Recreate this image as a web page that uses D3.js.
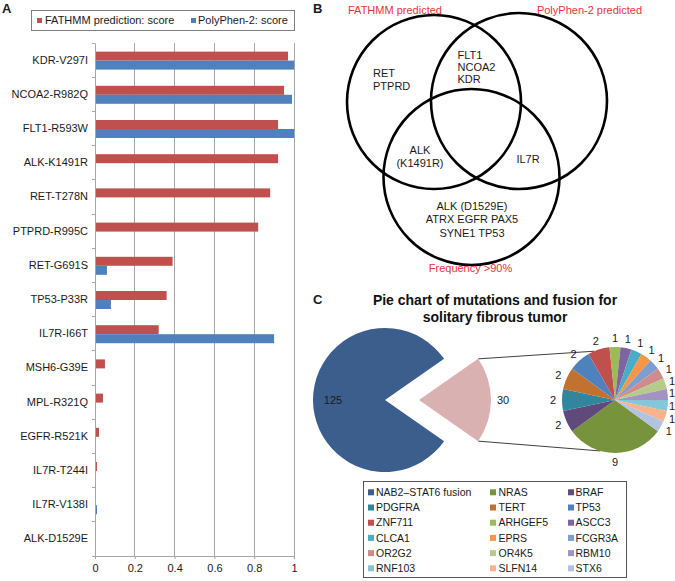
<!DOCTYPE html>
<html>
<head>
<meta charset="utf-8">
<script src="https://cdn.jsdelivr.net/npm/d3@7/dist/d3.min.js"></script>
<style>
  html, body { margin: 0; padding: 0; background: #fff; }
  svg { display: block; font-family: "Liberation Sans", Arial, sans-serif; }
</style>
</head>
<body>
<svg id="chart" width="675" height="581"></svg>
<script>
// ---------- Panel A data ----------
const categories = ["KDR-V297I","NCOA2-R982Q","FLT1-R593W","ALK-K1491R","RET-T278N","PTPRD-R995C",
  "RET-G691S","TP53-P33R","IL7R-I66T","MSH6-G39E","MPL-R321Q","EGFR-R521K","IL7R-T244I","IL7R-V138I","ALK-D1529E"];
const fathmmScores   = [0.97, 0.95, 0.92, 0.92, 0.88, 0.82, 0.39, 0.36, 0.32, 0.05, 0.04, 0.02, 0.01, 0, 0];
const polyphenScores = [1.00, 0.99, 1.00, 0, 0, 0, 0.06, 0.08, 0.90, 0, 0.005, 0, 0, 0.01, 0];
const seriesNames = ["FATHMM prediction: score", "PolyPhen-2: score"];
const seriesColors = ["#C0504D", "#4F81BD"];
const xTicks = [0, 0.2, 0.4, 0.6, 0.8, 1];

// ---------- Panel B data ----------
const vennSetLabels = ["FATHMM predicted", "PolyPhen-2 predicted", "Frequency >90%"];
const vennRegions = [
  {lines: ["RET", "PTPRD"]},
  {lines: ["FLT1", "NCOA2", "KDR"]},
  {lines: ["ALK", "(K1491R)"]},
  {lines: ["IL7R"]},
  {lines: ["ALK (D1529E)", "ATRX EGFR PAX5", "SYNE1 TP53"]}
];

// ---------- Panel C data ----------
const pieTitle = ["Pie chart of mutations and fusion for", "solitary fibrous tumor"];
const mainNames = ["NAB2\u2013STAT6 fusion", "Other"];
const mainValues = [125, 30];
const otherNames = ["NRAS","BRAF","PDGFRA","TERT","TP53","ZNF711","ARHGEF5","ASCC3","CLCA1","EPRS",
  "FCGR3A","OR2G2","OR4K5","RBM10","RNF103","SLFN14","STX6"];
const otherValues = [9,2,2,2,2,2,1,1,1,1,1,1,1,1,1,1,1];
const legendNames = ["NAB2\u2013STAT6 fusion","NRAS","BRAF","PDGFRA","TERT","TP53","ZNF711","ARHGEF5","ASCC3",
  "CLCA1","EPRS","FCGR3A","OR2G2","OR4K5","RBM10","RNF103","SLFN14","STX6"];
const colorMap = {
  "NAB2\u2013STAT6 fusion": "#3B5E8C", "Other": "#D9B1B0",
  "NRAS": "#77933C", "BRAF": "#5F4A7B", "PDGFRA": "#31859C", "TERT": "#C27230",
  "TP53": "#4F81BD", "ZNF711": "#C0504D", "ARHGEF5": "#9BBB59", "ASCC3": "#8064A2",
  "CLCA1": "#4BACC6", "EPRS": "#F79646", "FCGR3A": "#7E9ECF", "OR2G2": "#D08B8A",
  "OR4K5": "#B5CB8C", "RBM10": "#A393C0", "RNF103": "#86C6D9", "SLFN14": "#F9B28A", "STX6": "#B3C3DF"
};

const svg = d3.select("#chart");
const txt = "#1a1a1a";

// panel letters
[["A", 2, 13], ["B", 313, 13], ["C", 313, 304]].forEach(([t, x, y]) =>
  svg.append("text").attr("x", x).attr("y", y).attr("font-size", 13).attr("font-weight", "bold")
     .attr("fill", txt).text(t));

// ================= Panel A =================
const x = d3.scaleLinear().domain([0, 1]).range([95, 294]);
const y = d3.scaleBand().domain(categories).range([43, 556]).padding(0);
const ySub = d3.scaleBand().domain(seriesNames).range([y.bandwidth()/2 - 8.5, y.bandwidth()/2 + 9.5]);

const gA = svg.append("g");
// gridlines
gA.selectAll("line.grid").data(xTicks.slice(1)).join("line")
  .attr("x1", d => x(d)).attr("x2", d => x(d)).attr("y1", 43).attr("y2", 556)
  .attr("stroke", "#a6a6a6").attr("stroke-width", 1).attr("shape-rendering", "crispEdges");

// bars
const rows = categories.map((c, i) => ({cat: c, vals: [fathmmScores[i], polyphenScores[i]]}));
const rowG = gA.selectAll("g.row").data(rows).join("g").attr("transform", d => `translate(0,${y(d.cat)})`);
rowG.selectAll("rect").data(d => d.vals.map((v, k) => ({v, k}))).join("rect")
  .attr("x", x(0)).attr("y", d => ySub(seriesNames[d.k]))
  .attr("width", d => x(d.v) - x(0)).attr("height", ySub.bandwidth())
  .attr("fill", d => seriesColors[d.k]);

// y axis
const yAxis = d3.axisLeft(y).tickSize(0).tickPadding(7);
const yg = gA.append("g").attr("transform", `translate(${x(0)},0)`).call(yAxis);
yg.select(".domain").attr("stroke", "#a6a6a6");
yg.selectAll("text").attr("font-size", 11).attr("fill", txt).attr("font-family", "Liberation Sans, Arial, sans-serif");
// ticks at band boundaries
const boundaries = categories.map(c => y(c)).concat([556]);
gA.selectAll("line.ytick").data(boundaries).join("line")
  .attr("x1", x(0) - 3).attr("x2", x(0)).attr("y1", d => d).attr("y2", d => d)
  .attr("stroke", "#a6a6a6").attr("shape-rendering", "crispEdges");

// x axis
const xAxis = d3.axisBottom(x).tickValues(xTicks).tickFormat(d => d3.format("")(d)).tickSize(3).tickPadding(5);
const xg = gA.append("g").attr("transform", `translate(0,556)`).call(xAxis);
xg.select(".domain").attr("stroke", "#a6a6a6").attr("d", `M${x(0)},0.5H${x(1)}`);
xg.selectAll(".tick line").attr("stroke", "#a6a6a6");
xg.selectAll("text").attr("font-size", 11).attr("fill", txt).attr("font-family", "Liberation Sans, Arial, sans-serif");

// legend A
gA.append("rect").attr("x", 31.5).attr("y", 10.5).attr("width", 263).attr("height", 20)
  .attr("fill", "none").attr("stroke", "#7f7f7f");
const legA = [{x: 37, tx: 45}, {x: 191, tx: 198}];
seriesNames.forEach((s, i) => {
  gA.append("rect").attr("x", legA[i].x).attr("y", 18).attr("width", 5).attr("height", 5).attr("fill", seriesColors[i]);
  gA.append("text").attr("x", legA[i].tx).attr("y", 20.5).attr("dy", "0.35em").attr("font-size", 11)
    .attr("fill", txt).text(s);
});

// ================= Panel B (Venn) =================
const gB = svg.append("g");
const circles = [{cx: 434, cy: 102, r: 87}, {cx: 519, cy: 101, r: 88}, {cx: 471.5, cy: 177, r: 88}];
gB.selectAll("circle").data(circles).join("circle")
  .attr("cx", d => d.cx).attr("cy", d => d.cy).attr("r", d => d.r)
  .attr("fill", "none").attr("stroke", "#000").attr("stroke-width", 2.6);
const setLabelPos = [{x: 348, y: 10, a: "start"}, {x: 589.5, y: 10, a: "middle"}, {x: 470.5, y: 268, a: "middle"}];
vennSetLabels.forEach((t, i) => {
  gB.append("text").attr("x", setLabelPos[i].x).attr("y", setLabelPos[i].y).attr("dy", "0.35em")
    .attr("text-anchor", setLabelPos[i].a).attr("font-size", 11).attr("fill", "#E3343A").text(t);
});
const regionPos = [{x: 373, y: 73.5, a: "start", lh: 12.3}, {x: 457.5, y: 55, a: "start", lh: 12.2},
  {x: 420, y: 150, a: "middle", lh: 13}, {x: 528, y: 159, a: "middle", lh: 13}, {x: 472, y: 206, a: "middle", lh: 13.5}];
vennRegions.forEach((r, i) => {
  const p = regionPos[i];
  r.lines.forEach((l, j) => {
    gB.append("text").attr("x", p.x).attr("y", p.y + j * p.lh).attr("dy", "0.35em")
      .attr("text-anchor", p.a).attr("font-size", 11).attr("fill", txt).text(l);
  });
});

// ================= Panel C (pie of pie) =================
const gC = svg.append("g");
pieTitle.forEach((t, i) => gC.append("text").attr("x", 495).attr("y", 300 + i * 17).attr("dy", "0.35em")
  .attr("text-anchor", "middle").attr("font-size", 14).attr("font-weight", "bold").attr("fill", "#111").text(t));

const mainTotal = d3.sum(mainValues);
const otherAngle = 2 * Math.PI * mainValues[1] / mainTotal;
const mainStart = Math.PI / 2 + otherAngle / 2;
const mainPie = d3.pie().sort(null).startAngle(mainStart).endAngle(mainStart + 2 * Math.PI);
const mainArcs = mainPie(mainValues);
const R1 = 72, c1 = {x: 385, y: 400}, explode = 34;
const arc1 = d3.arc().innerRadius(0).outerRadius(R1);

const R2 = 53, c2 = {x: 615, y: 400};
const otherStart = 126 * Math.PI / 180;
const otherPie = d3.pie().sort(null).startAngle(otherStart).endAngle(otherStart + 2 * Math.PI);
const otherArcs = otherPie(otherValues);
const arc2 = d3.arc().innerRadius(0).outerRadius(R2);

// connector lines
const ex = c1.x + explode;
const pinkA0 = mainArcs[1].startAngle, pinkA1 = mainArcs[1].endAngle;
const pt = (cx, cy, r, a) => [cx + r * Math.sin(a), cy - r * Math.cos(a)];
const linePts = [
  [pt(ex, c1.y, R1, pinkA0), pt(c2.x, c2.y, R2, -23 * Math.PI / 180)],
  [pt(ex, c1.y, R1, pinkA1), pt(c2.x, c2.y, R2, 196 * Math.PI / 180)]
];
gC.selectAll("line.conn").data(linePts).join("line")
  .attr("x1", d => d[0][0]).attr("y1", d => d[0][1]).attr("x2", d => d[1][0]).attr("y2", d => d[1][1])
  .attr("stroke", "#404040").attr("stroke-width", 1);

// main pie
gC.selectAll("path.main").data(mainArcs).join("path")
  .attr("transform", (d, i) => `translate(${i === 1 ? ex : c1.x},${c1.y})`)
  .attr("d", arc1).attr("fill", (d, i) => colorMap[mainNames[i]]);
gC.append("text").attr("x", c1.x - 52).attr("y", c1.y).attr("dy", "0.35em").attr("text-anchor", "middle")
  .attr("font-size", 11).attr("fill", txt).text(mainValues[0]);
gC.append("text").attr("x", ex + 84).attr("y", c1.y).attr("dy", "0.35em").attr("text-anchor", "middle")
  .attr("font-size", 11).attr("fill", txt).text(mainValues[1]);

// secondary pie
gC.selectAll("path.other").data(otherArcs).join("path")
  .attr("transform", `translate(${c2.x},${c2.y})`)
  .attr("d", arc2).attr("fill", (d, i) => colorMap[otherNames[i]]);
gC.selectAll("text.olab").data(otherArcs).join("text")
  .attr("x", d => Math.min(672, c2.x + 62 * Math.sin((d.startAngle + d.endAngle) / 2)))
  .attr("y", d => c2.y - 62 * Math.cos((d.startAngle + d.endAngle) / 2))
  .attr("dy", "0.35em").attr("text-anchor", "middle").attr("font-size", 11).attr("fill", txt)
  .text(d => d.data);

// legend C
gC.append("rect").attr("x", 363.5).attr("y", 481.5).attr("width", 263).attr("height", 96)
  .attr("fill", "none").attr("stroke", "#555");
const colSq = [368, 490, 568], colTx = [376, 498.5, 575.5];
legendNames.forEach((n, i) => {
  const col = i % 3, row = Math.floor(i / 3);
  const cy = 492.3 + row * 15.2;
  gC.append("rect").attr("x", colSq[col]).attr("y", cy - 3).attr("width", 6).attr("height", 6).attr("fill", colorMap[n]);
  gC.append("text").attr("x", colTx[col]).attr("y", cy).attr("dy", "0.35em").attr("font-size", 10.5)
    .attr("fill", txt).text(n);
});
</script>
</body>
</html>
